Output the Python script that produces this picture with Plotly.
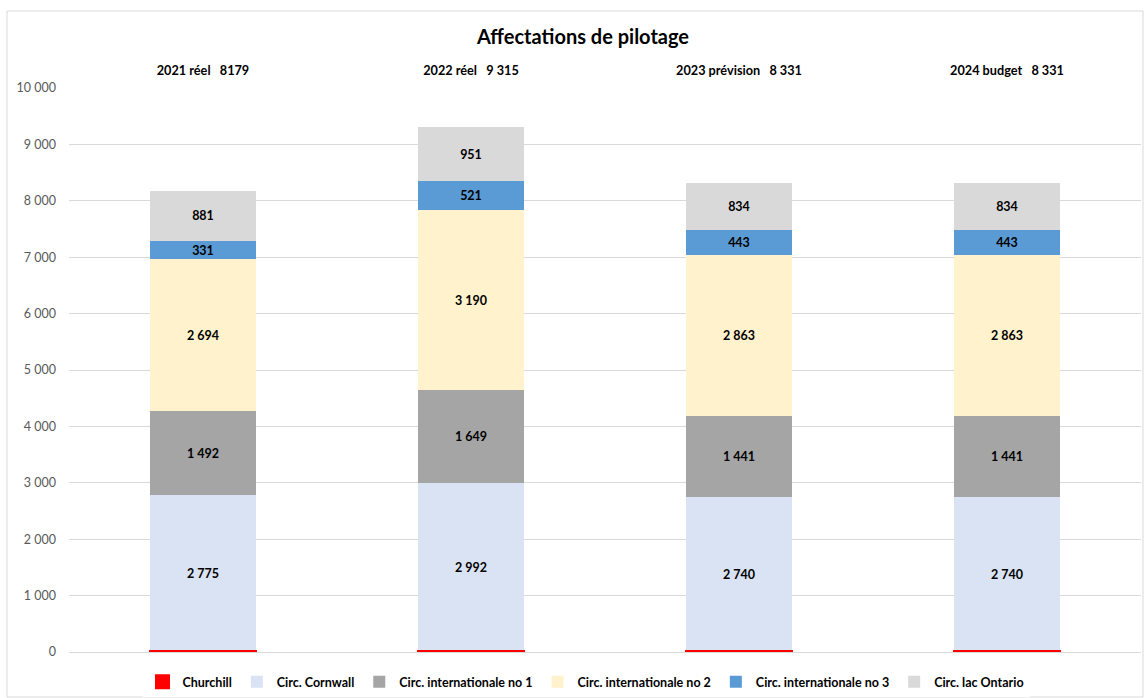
import plotly.graph_objects as go

categories = ["2021 réel\u00a0\u00a0\u00a08179", "2022 réel\u00a0\u00a0\u00a09\u00a0315",
              "2023 prévision\u00a0\u00a0\u00a08\u00a0331", "2024 budget\u00a0\u00a0\u00a08\u00a0331"]
churchill = [6, 12, 10, 10]
cornwall = [2775, 2992, 2740, 2740]
intl1 = [1492, 1649, 1441, 1441]
intl2 = [2694, 3190, 2863, 2863]
intl3 = [331, 521, 443, 443]
ontario = [881, 951, 834, 834]

series = [
    ("Churchill", churchill, "#FF0000", False),
    ("Circ. Cornwall", cornwall, "#DAE3F3", True),
    ("Circ. internationale no 1", intl1, "#A5A5A5", True),
    ("Circ. internationale no 2", intl2, "#FFF2CC", True),
    ("Circ. internationale no 3", intl3, "#5B9BD5", True),
    ("Circ. lac Ontario", ontario, "#D9D9D9", True),
]

FONT = "Lato"

fig = go.Figure()
for name, vals, color, lab in series:
    if lab:
        fig.add_trace(go.Bar(
            x=categories, y=vals, name=name,
            marker=dict(color=color, line=dict(width=0)),
            texttemplate="%{y:,d}",
            textposition="inside",
            insidetextanchor="middle",
            constraintext="none",
            textangle=0,
            textfont=dict(family=FONT, size=12.5, color="black", weight="bold"),
        ))
    else:
        # thin segment at the base, drawn on an overlaying axis so it stays visible
        fig.add_trace(go.Bar(
            x=categories, y=vals, name=name, yaxis="y2",
            marker=dict(color=color, line=dict(width=3, color=color)),
            textposition="none",
        ))

L, R, T, B = 69, 3, 88, 46
W, H = 1144, 698
pw, ph = W - L - R, H - T - B

fig.update_layout(
    width=W, height=H,
    barmode="stack", bargap=0.608,
    separators=", ",
    paper_bgcolor="white", plot_bgcolor="white",
    margin=dict(l=L, r=R, t=T, b=B, autoexpand=False),
    font=dict(family=FONT, color="#595959"),
    title=dict(text="<b>Affectations de pilotage</b>", x=583 / W, xanchor="center",
               y=1 - 37 / H, yanchor="middle", font=dict(family=FONT, size=20, color="black")),
    xaxis=dict(side="top", showgrid=False, showline=False, ticks="outside",
               ticklen=7, tickcolor="rgba(0,0,0,0)",
               tickfont=dict(family=FONT, size=12.7, color="black", weight="bold")),
    yaxis=dict(range=[0, 10000], tick0=0, dtick=1000, tickformat=",d",
               showgrid=True, gridcolor="#D9D9D9", gridwidth=1, zeroline=True,
               zerolinecolor="#D9D9D9", zerolinewidth=1, showline=False,
               ticklabelstandoff=12,
               tickfont=dict(family=FONT, size=12.5, color="#595959")),
    yaxis2=dict(range=[0, 10000], overlaying="y", visible=False, showgrid=False,
                zeroline=False),
    legend=dict(orientation="h", x=(586 - L) / pw, xanchor="center",
                y=(652 - 682) / ph, yanchor="middle", traceorder="normal",
                font=dict(family=FONT, size=12.5, color="black", weight="bold"),
                itemwidth=30),
    showlegend=True,
    shapes=[dict(type="rect", xref="paper", yref="paper",
                 x0=(7 - L) / pw, x1=(1143 - L) / pw,
                 y0=(652 - 697) / ph, y1=(652 - 11) / ph,
                 line=dict(color="#D9D9D9", width=1), layer="below")],
)

fig.write_html("out.html")
